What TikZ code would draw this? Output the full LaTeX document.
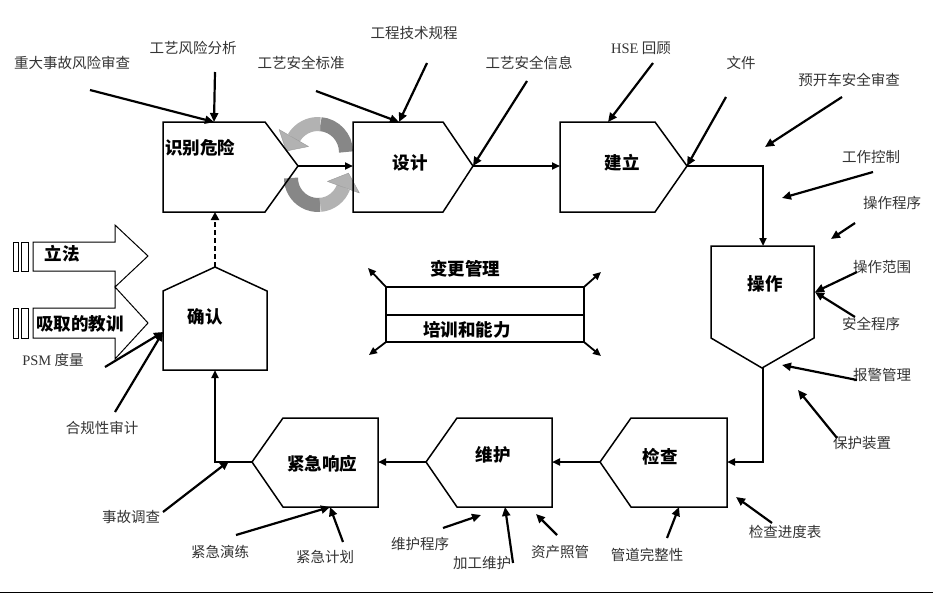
\documentclass[tikz,border=0pt]{standalone}
\usepackage{fontspec}
\setmainfont{Liberation Serif}
\newfontfamily\cjk{Noto Sans CJK SC}
\usetikzlibrary{arrows.meta}
\begin{document}
\begin{tikzpicture}[x=1pt,y=-1pt,
  shp/.style={draw, line width=1.5pt, line join=miter},
  bigarr/.style={draw, line width=1pt, line join=miter},
  flow/.style={line width=2pt, -{Triangle[length=8pt,width=7pt]}},
  feed/.style={line width=2.2pt, -{Triangle[length=9pt,width=8pt]}},
  dashflow/.style={line width=2.6pt, dash pattern=on 5pt off 3pt, -{Triangle[length=8pt,width=8pt]}},
  lbl/.style={font=\cjk\fontsize{14.5}{15}\selectfont, text=black!80, inner sep=0pt},
  ttl/.style={font=\cjk\bfseries\fontsize{17.5}{18}\selectfont, inner sep=0pt},
  darkrib/.style={draw=black!47, line width=14pt},
  lightrib/.style={draw=black!30, line width=14pt},
  ribhead/.style={fill=black!30, draw=black!40, line width=0.4pt, line join=round},
]
\useasboundingbox (0,0) rectangle (933,594);

% ---------- rotating ribbons ----------
\draw[darkrib] (346,152) arc[start angle=0, end angle=-85, radius=28];
\draw[lightrib] (318,152) ++(-85:28) arc[start angle=-85, end angle=-150, radius=28];
\filldraw[ribhead] (308.5,146.5) -- (279.1,129.5) -- (286.3,151) -- cycle;
\draw[darkrib] (291,178) arc[start angle=180, end angle=85, radius=27];
\draw[lightrib] (318,178) ++(85:27) arc[start angle=85, end angle=20, radius=27];
\filldraw[ribhead] (359.4,193) -- (327.4,181.4) -- (348.5,173.1) -- cycle;

% ---------- process shapes ----------
\draw[shp] (163,122) -- (265,122) -- (298,166) -- (265,212) -- (163,212) -- cycle;
\draw[shp] (353,122) -- (443,122) -- (473,166) -- (443,212) -- (353,212) -- cycle;
\draw[shp] (560,122) -- (655,122) -- (687,166) -- (655,212) -- (560,212) -- cycle;
\draw[shp] (711,246) -- (814,246) -- (814,338) -- (762,368) -- (711,338) -- cycle;
\draw[shp] (727,418) -- (727,507) -- (631,507) -- (600,462) -- (631,418) -- cycle;
\draw[shp] (552,418) -- (552,507) -- (457,507) -- (426,462) -- (457,418) -- cycle;
\draw[shp] (378,418) -- (378,507) -- (283,507) -- (252,462) -- (283,418) -- cycle;
\draw[shp] (163,370) -- (267,370) -- (267,291) -- (215,267) -- (163,291) -- cycle;

\node[ttl, anchor=west] (tA) at (165,148) {识别危险};
\node[ttl] (tB) at (410,163) {设计};
\node[ttl] (tC) at (622,163) {建立};
\node[ttl] (tD) at (765,284) {操作};
\node[ttl] (tE) at (660,457) {检查};
\node[ttl] (tF) at (493,455) {维护};
\node[ttl] (tG) at (322,464) {紧急响应};
\node[ttl] (tH) at (205,317) {确认};

% anchor coordinates
\coordinate (Atip) at (298,166);
\coordinate (Atop) at (214,122);
\coordinate (Abot) at (215,212);
\coordinate (Bleft) at (353,166);
\coordinate (Btip) at (473,166);
\coordinate (Btop) at (399,122);
\coordinate (Cleft) at (560,166);
\coordinate (Ctip) at (687,166);
\coordinate (Ctop) at (608,122);
\coordinate (Dtop) at (763,246);
\coordinate (Dapex) at (763,368);
\coordinate (Dright) at (815,292);
\coordinate (Eright) at (727,462);
\coordinate (Etip) at (600,462);
\coordinate (Ebot) at (679,507);
\coordinate (Fright) at (552,462);
\coordinate (Ftip) at (426,462);
\coordinate (Fbot) at (505,507);
\coordinate (Gright) at (378,462);
\coordinate (Gtip) at (252,462);
\coordinate (Gbot) at (330,507);
\coordinate (Hbot) at (215,370);
\coordinate (Hapex) at (215,267);
\coordinate (Hleft) at (163,332);

% main flow
\draw[flow] (Atip) -- (Bleft);
\draw[flow] (Btip) -- (Cleft);
\draw[flow] (Ctip) -| (Dtop);
\draw[flow] (Dapex) |- (Eright);
\draw[flow] (Etip) -- (Fright);
\draw[flow] (Ftip) -- (Gright);
\draw[flow] (Gtip) -| (Hbot);
\draw[dashflow] (Hapex) -- (Abot);

% ---------- left big arrows ----------
\draw[bigarr] (33,242) -- (115,242) -- (115,225) -- (148,256) -- (115,287) -- (115,271) -- (33,271) -- cycle;
\draw[bigarr] (13,242) rectangle (18,271);
\draw[bigarr] (21,242) rectangle (28,271);
\draw[bigarr] (33,308) -- (115,308) -- (115,287) -- (148,323) -- (115,359) -- (115,338) -- (33,338) -- cycle;
\draw[bigarr] (13,308) rectangle (18,338);
\draw[bigarr] (21,308) rectangle (28,338);
\node[ttl] (law) at (62,254) {立法};
\node[ttl] (lesson) at (80,324) {吸取的教训};

% ---------- central box ----------
\draw[shp] (386,287) rectangle (584,342);
\draw[shp] (386,315) -- (584,315);
\coordinate (cTL) at (386,287);
\coordinate (cTR) at (584,287);
\coordinate (cBL) at (386,342);
\coordinate (cBR) at (584,342);
\coordinate (oTL) at (368,268);
\coordinate (oTR) at (601,272);
\coordinate (oBL) at (369,355);
\coordinate (oBR) at (601,356);
\draw[flow, line width=1.8pt] (cTL) -- (oTL);
\draw[flow, line width=1.8pt] (cTR) -- (oTR);
\draw[flow, line width=1.8pt] (cBL) -- (oBL);
\draw[flow, line width=1.8pt] (cBR) -- (oBR);
\node[ttl] (moc) at (465,269) {变更管理};
\node[ttl] (train) at (467,330) {培训和能力};

% ---------- labels ----------
\node[lbl] (l1) at (72,63) {重大事故风险审查};
\node[lbl] (l2) at (193,48) {工艺风险分析};
\node[lbl] (l3) at (301,63) {工艺安全标准};
\node[lbl] (l4) at (414,33) {工程技术规程};
\node[lbl] (l5) at (529,63) {工艺安全信息};
\node[lbl] (l6) at (641,48) {{\rmfamily HSE} 回顾};
\node[lbl] (l7) at (741,63) {文件};
\node[lbl] (l8) at (849,80) {预开车安全审查};
\node[lbl] (l9) at (871,157) {工作控制};
\node[lbl] (l10) at (892,203) {操作程序};
\node[lbl] (l11) at (882,267) {操作范围};
\node[lbl] (l12) at (871,324) {安全程序};
\node[lbl] (l13) at (882,375) {报警管理};
\node[lbl] (l14) at (862,443) {保护装置};
\node[lbl] (l15) at (785,532) {检查进度表};
\node[lbl] (l16) at (647,555) {管道完整性};
\node[lbl] (l17) at (560,552) {资产照管};
\node[lbl] (l18) at (482,563) {加工维护};
\node[lbl] (l19) at (420,544) {维护程序};
\node[lbl] (l20) at (325,557) {紧急计划};
\node[lbl] (l21) at (220,552) {紧急演练};
\node[lbl] (l22) at (131,517) {事故调查};
\node[lbl] (l23) at (102,428) {合规性审计};
\node[lbl] (l24) at (53,360) {{\rmfamily PSM} 度量};

% feed arrow start / free end coordinates
\coordinate (s1) at (90,90);
\coordinate (s2) at (215,72);
\coordinate (s3) at (316,91);
\coordinate (s4) at (427,63);
\coordinate (s5) at (527,81);
\coordinate (s6) at (653,63);
\coordinate (s7) at (726,97);
\coordinate (s8) at (842,97);   \coordinate (e8) at (765,147);
\coordinate (s9) at (873,172);  \coordinate (e9) at (782,198);
\coordinate (s10) at (855,223); \coordinate (e10) at (831,239);
\coordinate (s11) at (857,272);
\coordinate (s12) at (855,317);
\coordinate (s13) at (857,380); \coordinate (e13) at (782,365);
\coordinate (s14) at (837,438); \coordinate (e14) at (798,390);
\coordinate (s15) at (772,523); \coordinate (e15) at (736,497);
\coordinate (s16) at (667,538);
\coordinate (s17) at (557,535); \coordinate (e17) at (536,514);
\coordinate (s18) at (513,563);
\coordinate (s19) at (443,528); \coordinate (e19) at (481,515);
\coordinate (s20) at (343,542);
\coordinate (s21) at (236,535);
\coordinate (s22) at (163,512); \coordinate (e22) at (229,461);
\coordinate (s23) at (105,367);
\coordinate (s24) at (115,412);

\draw[feed] (s1) -- (Atop);
\draw[feed] (s2) -- (Atop);
\draw[feed] (s3) -- (Btop);
\draw[feed] (s4) -- (Btop);
\draw[feed] (s5) -- (Btip);
\draw[feed] (s6) -- (Ctop);
\draw[feed] (s7) -- (Ctip);
\draw[feed] (s8) -- (e8);
\draw[feed] (s9) -- (e9);
\draw[feed] (s10) -- (e10);
\draw[feed] (s11) -- (Dright);
\draw[feed] (s12) -- (Dright);
\draw[feed] (s13) -- (e13);
\draw[feed] (s14) -- (e14);
\draw[feed] (s15) -- (e15);
\draw[feed] (s16) -- (Ebot);
\draw[feed] (s17) -- (e17);
\draw[feed] (s18) -- (Fbot);
\draw[feed] (s19) -- (e19);
\draw[feed] (s20) -- (Gbot);
\draw[feed] (s21) -- (Gbot);
\draw[feed] (s22) -- (e22);
\draw[feed] (s23) -- (Hleft);
\draw[feed] (s24) -- (Hleft);

% bottom rule
\coordinate (bl) at (0,592.5);
\coordinate (br) at (933,592.5);
\draw[line width=1.5pt] (bl) -- (br);
\end{tikzpicture}
\end{document}
